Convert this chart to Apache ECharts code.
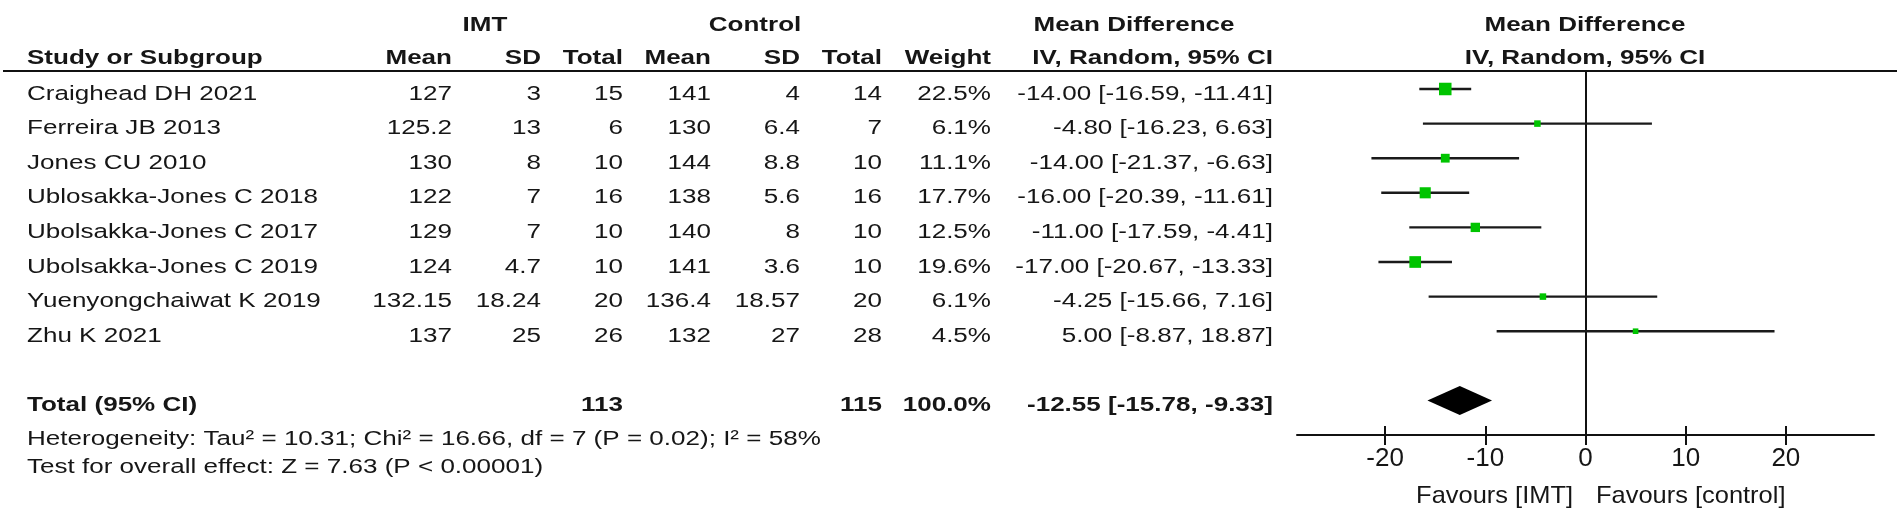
<!DOCTYPE html>
<html>
<head>
<meta charset="utf-8">
<script src="https://cdn.jsdelivr.net/npm/echarts@6/dist/echarts.min.js"></script>
<style>
html,body{margin:0;padding:0;background:#fff;}
#chart{width:1900px;height:517px;}
</style>
</head>
<body>
<div id="chart"></div>
<script>
// ---- data ----
const studies = ['Craighead DH 2021','Ferreira JB 2013','Jones CU 2010','Ublosakka-Jones C 2018','Ubolsakka-Jones C 2017','Ubolsakka-Jones C 2019','Yuenyongchaiwat K 2019','Zhu K 2021'];
const imtMean = ['127','125.2','130','122','129','124','132.15','137'];
const imtSD   = ['3','13','8','7','7','4.7','18.24','25'];
const imtN    = [15,6,10,16,10,10,20,26];
const ctlMean = ['141','130','144','138','140','141','136.4','132'];
const ctlSD   = ['4','6.4','8.8','5.6','8','3.6','18.57','27'];
const ctlN    = [14,7,10,16,10,10,20,28];
const weight  = [22.5,6.1,11.1,17.7,12.5,19.6,6.1,4.5];
const md      = [-14.00,-4.80,-14.00,-16.00,-11.00,-17.00,-4.25,5.00];
const ciLo    = [-16.59,-16.23,-21.37,-20.39,-17.59,-20.67,-15.66,-8.87];
const ciHi    = [-11.41,6.63,-6.63,-11.61,-4.41,-13.33,7.16,18.87];
const total   = {imtN:113, ctlN:115, weight:100.0, md:-12.55, lo:-15.78, hi:-9.33, row:9};
const xTicks  = [-20,-10,0,10,20];
const heterogeneity = 'Heterogeneity: Tau\u00b2 = 10.31; Chi\u00b2 = 16.66, df = 7 (P = 0.02); I\u00b2 = 58%';
const overall = 'Test for overall effect: Z = 7.63 (P < 0.00001)';

// ---- layout ----
const FONT = '"Liberation Sans", Arial, sans-serif';
const FS = 20.5, SX = 1.27;
const TXT = '#161616';
const col = {study:27, imtMean:452, imtSD:541, imtN:623, ctlMean:711, ctlSD:800, ctlN:882, weight:991, ci:1273};
const TEXT_DY = 5;

function fmtCI(m,l,h){ return m.toFixed(2)+' ['+l.toFixed(2)+', '+h.toFixed(2)+']'; }

function txt(text,x,y,align,bold,sx,fs){
  return {type:'text', x:x, y:y, scaleX: sx||SX, scaleY:1, silent:true,
    style:{text:text, x:0, y:0, align:align, verticalAlign:'middle',
    fontFamily:FONT, fontSize: fs||FS, fontWeight: bold?'bold':'normal', fill:TXT}};
}

const rowData = studies.map((s,i)=>[0,i]);

const chart = echarts.init(document.getElementById('chart'), null, {renderer:'canvas'});

const option = {
  animation:false,
  backgroundColor:'#fff',
  grid:{left:1297, right:26, top:71, bottom:82, containLabel:false},
  xAxis:[{
    type:'value', min:-28.8, max:28.8, position:'bottom',
    axisLine:{show:true, onZero:false, lineStyle:{color:'#111', width:2}},
    axisTick:{show:true, inside:true, length:9, customValues:xTicks, lineStyle:{color:'#111', width:2}},
    axisLabel:{show:true, customValues:xTicks, margin:11, fontSize:26, fontFamily:FONT, color:TXT},
    splitLine:{show:false}
  },{
    type:'value', min:-28.8, max:28.8, position:'bottom',
    axisLine:{show:false, onZero:false},
    axisTick:{show:true, inside:false, length:10, customValues:xTicks, lineStyle:{color:'#111', width:2}},
    axisLabel:{show:false},
    splitLine:{show:false}
  }],
  yAxis:{
    type:'value', inverse:true, min:-0.52, max:10,
    axisLine:{show:true, onZero:true, lineStyle:{color:'#111', width:2}},
    axisTick:{show:false}, axisLabel:{show:false}, splitLine:{show:false}
  },
  graphic:[
    {type:'line', shape:{x1:3, y1:71, x2:1897, y2:71}, style:{stroke:'#111', lineWidth:2}, z:10},
    txt('IMT',485,25,'center',true),
    txt('Control',755,25,'center',true),
    txt('Mean Difference',1134,25,'center',true),
    txt('Mean Difference',1585,25,'center',true),
    txt('Study or Subgroup',col.study,58,'left',true),
    txt('Mean',col.imtMean,58,'right',true),
    txt('SD',col.imtSD,58,'right',true),
    txt('Total',col.imtN,58,'right',true),
    txt('Mean',col.ctlMean,58,'right',true),
    txt('SD',col.ctlSD,58,'right',true),
    txt('Total',col.ctlN,58,'right',true),
    txt('Weight',col.weight,58,'right',true),
    txt('IV, Random, 95% CI',col.ci,58,'right',true),
    txt('IV, Random, 95% CI',1585,58,'center',true),
    txt(heterogeneity,col.study,439,'left',false),
    txt(overall,col.study,467,'left',false),
    txt('Favours [IMT]',1573,496,'right',false,1.06,24),
    txt('Favours [control]',1596,496,'left',false,1.06,24)
  ],
  series:[
    { // study rows: table text
      type:'custom', name:'table', coordinateSystem:'cartesian2d',
      data: rowData, encode:{x:0, y:1}, clip:false, silent:true,
      renderItem:function(params, api){
        const i = api.value(1);
        const y = api.coord([0,i])[1] + TEXT_DY;
        return {type:'group', children:[
          txt(studies[i], col.study, y, 'left', false),
          txt(imtMean[i], col.imtMean, y, 'right', false),
          txt(imtSD[i], col.imtSD, y, 'right', false),
          txt(String(imtN[i]), col.imtN, y, 'right', false),
          txt(ctlMean[i], col.ctlMean, y, 'right', false),
          txt(ctlSD[i], col.ctlSD, y, 'right', false),
          txt(String(ctlN[i]), col.ctlN, y, 'right', false),
          txt(weight[i].toFixed(1)+'%', col.weight, y, 'right', false),
          txt(fmtCI(md[i],ciLo[i],ciHi[i]), col.ci, y, 'right', false)
        ]};
      }
    },
    { // total row text
      type:'custom', name:'totalText', coordinateSystem:'cartesian2d',
      data:[[0,total.row]], encode:{x:0, y:1}, clip:false, silent:true,
      renderItem:function(params, api){
        const y = api.coord([0,api.value(1)])[1] + TEXT_DY;
        return {type:'group', children:[
          txt('Total (95% CI)', col.study, y, 'left', true),
          txt(String(total.imtN), col.imtN, y, 'right', true),
          txt(String(total.ctlN), col.ctlN, y, 'right', true),
          txt(total.weight.toFixed(1)+'%', col.weight, y, 'right', true),
          txt(fmtCI(total.md,total.lo,total.hi), col.ci, y, 'right', true)
        ]};
      }
    },
    { // CI lines + weighted squares
      type:'custom', name:'studies', coordinateSystem:'cartesian2d',
      data: studies.map((s,i)=>[ciLo[i], ciHi[i], md[i], i, weight[i]]),
      encode:{x:[0,1,2], y:3}, clip:false, silent:true, z:5,
      renderItem:function(params, api){
        const y = api.coord([0, api.value(3)])[1];
        const x1 = api.coord([api.value(0), 0])[0];
        const x2 = api.coord([api.value(1), 0])[0];
        const xm = api.coord([api.value(2), 0])[0];
        const s = 2.64*Math.sqrt(api.value(4));
        return {type:'group', children:[
          {type:'line', shape:{x1:x1, y1:y, x2:x2, y2:y}, style:{stroke:'#1a1a1a', lineWidth:2.4}},
          {type:'rect', shape:{x:xm-s/2, y:y-s/2, width:s, height:s}, style:{fill:'#00c400'}}
        ]};
      }
    },
    { // pooled diamond
      type:'custom', name:'total', coordinateSystem:'cartesian2d',
      data:[[total.lo, total.hi, total.md, total.row]],
      encode:{x:[0,1,2], y:3}, clip:false, silent:true, z:5,
      renderItem:function(params, api){
        const y = api.coord([0, api.value(3)])[1];
        const x1 = api.coord([api.value(0), 0])[0];
        const x2 = api.coord([api.value(1), 0])[0];
        const xm = api.coord([api.value(2), 0])[0];
        const h = 14.5;
        return {type:'polygon', shape:{points:[[x1,y],[xm,y-h],[x2,y],[xm,y+h]]}, style:{fill:'#000'}};
      }
    }
  ]
};
chart.setOption(option);
</script>
</body>
</html>
